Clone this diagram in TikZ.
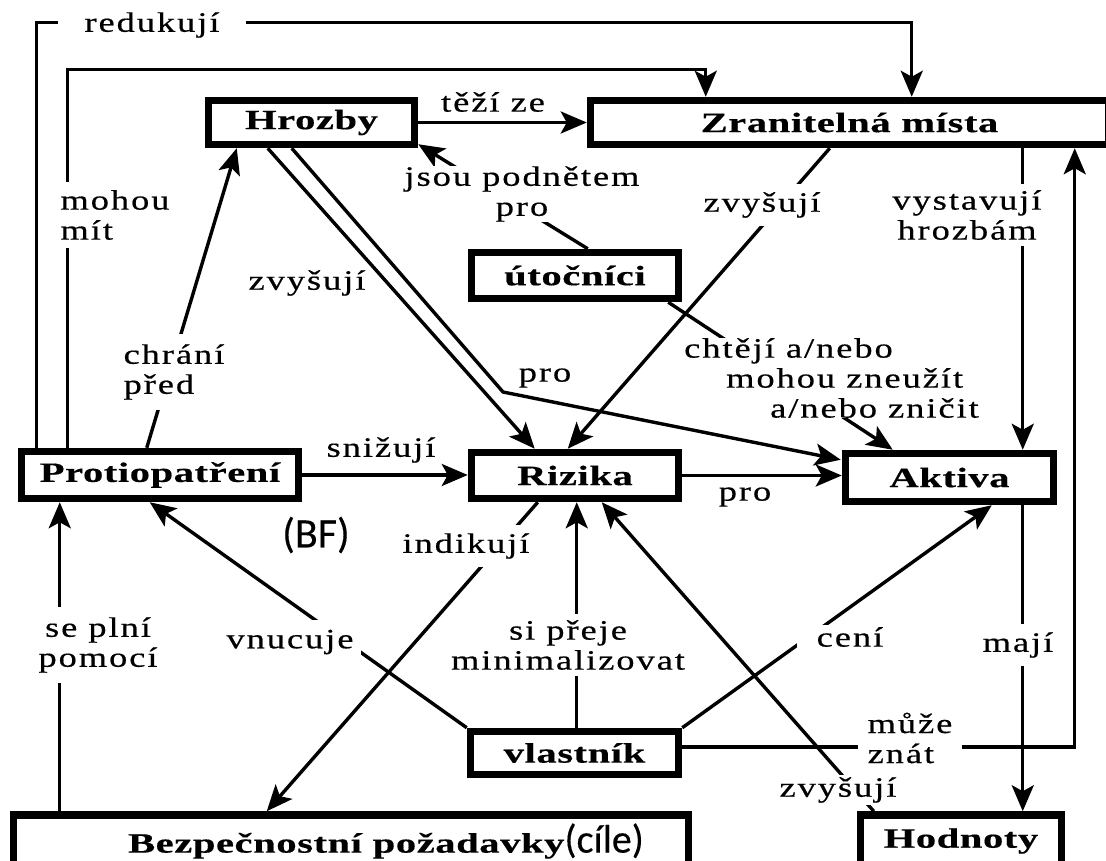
\documentclass[tikz,border=0pt]{standalone}
\usepackage{fontspec}
\setmainfont{Liberation Serif}
\newfontfamily\lblfont{Liberation Serif}[FakeStretch=1.3,LetterSpace=7,FakeBold=0.5]
\newfontfamily\boxfont{Liberation Serif}[FakeStretch=1.45,LetterSpace=2,FakeBold=0.4]
\newfontfamily\calfont{Carlito}[FakeBold=0.3]
\usetikzlibrary{arrows.meta,calc}

\begin{document}
\begin{tikzpicture}[x=1pt,y=-1pt,
  box/.style={draw=black,line width=7.5pt,fill=white,inner sep=0pt,
    font={\boxfont\bfseries\fontsize{28}{30}\selectfont}},
  conn/.style={line width=3.4pt,-{Stealth[length=26pt,width=22pt,inset=6pt]}},
  lbl/.style={font={\lblfont\fontsize{28}{30}\selectfont},align=center,inner sep=2pt},
  gap/.style={lbl,fill=white}]

\fill[white] (0,0) rectangle (1106,861);
\useasboundingbox (0,0) rectangle (1106,861);

% concept boxes
\node[box,minimum width=206pt,minimum height=44pt] (hro) at (311.5,122.5) {Hrozby};
\node[box,minimum width=518pt,minimum height=44pt] (zra) at (849.5,122.5) {Zranitelná místa};
\node[box,minimum width=207pt,minimum height=46pt] (uto) at (575,275.5) {útočníci};
\node[box,minimum width=277pt,minimum height=47pt] (pro) at (160,475) {Protiopatření};
\node[box,minimum width=207pt,minimum height=46pt] (riz) at (575,475.5) {Rizika};
\node[box,minimum width=208pt,minimum height=48pt] (akt) at (949.5,477.5) {Aktiva};
\node[box,minimum width=208pt,minimum height=43pt] (vla) at (574.5,753) {vlastník};
\node[box,minimum width=675pt,minimum height=52pt] (bez) at (351,841)
  {\hspace*{70pt}Bezpečnostní požadavky{\calfont\mdseries\fontsize{40}{40}\selectfont(cíle)}};
\node[box,minimum width=201pt,minimum height=52pt] (hod) at (961,841) {Hodnoty};

\coordinate (bend) at (503,392);

% relations
\draw[conn] ($(pro.north west)+(19,0)$) -- ++(0,-425) -| ($(zra.north west)+(325,0)$);
\draw[conn] ($(pro.north west)+(50,0)$) -- ++(0,-378) -| ($(zra.north west)+(119,0)$);
\draw[conn] (hro.east) -- (zra.west);
\draw[conn] ($(uto.north west)+(120,0)$) -- ($(hro.south east)+(0,-4)$);
\draw[conn] ($(zra.south west)+(243,0)$) -- ($(riz.north west)+(100,0)$);
\draw[conn] ($(hro.south west)+(63,0)$) -- ($(riz.north west)+(67,0)$);
\draw[conn] ($(hro.south west)+(87,0)$) -- (bend) -- ($(akt.north west)+(-1,10)$);
\draw[conn] ($(uto.south east)+(-14,0)$) -- ($(akt.north west)+(51,0)$);
\draw[conn] ($(zra.south west)+(436,0)$) -- ($(akt.north west)+(181,0)$);
\draw[conn] ($(vla.east)+(0,-6)$) -| ($(zra.south west)+(488,0)$);
\draw[conn] ($(akt.south west)+(181,0)$) -- ($(hod.north west)+(166,0)$);
\draw[conn] ($(pro.north west)+(129,0)$) -- ($(hro.south west)+(32,0)$);
\draw[conn] (pro.east) -- (pro.east -| riz.west);
\draw[conn] (riz.east) -- (riz.east -| akt.west);
\draw[conn] ($(riz.south west)+(70,0)$) -- ($(bez.north west)+(257,0)$);
\draw[conn] ($(vla.north west)+(110,0)$) -- ($(riz.south west)+(109,0)$);
\draw[conn] (vla.north west) -- ($(pro.south west)+(132,0)$);
\draw[conn] (vla.north east) -- ($(akt.south west)+(150,0)$);
\draw[conn] ($(hod.north west)+(17,0)$) -- ($(riz.south west)+(134,0)$);
\draw[conn] ($(bez.north west)+(50,0)$) -- ($(pro.south west)+(42,0)$);

% relation labels
\node[gap,inner xsep=26pt] (lred) at (152,25) {redukují};
\node[gap,align=left,inner sep=3pt,inner ysep=8pt] (lmoh) at (115,215) {mohou\\mít};
\node[lbl] (ltez) at (493,102) {těží ze};
\node[gap,inner sep=0pt] (ljso) at (522,194) {jsou podnětem\\pro};
\node[lbl] (lzv1) at (307,283) {zvyšují};
\node[gap,inner ysep=8pt] (lzv2) at (762,205) {zvyšují};
\node[gap,inner ysep=6pt] (lvys) at (967,215) {vystavují\\hrozbám};
\node[lbl] (lpro1) at (545,378) {pro};
\node[gap,align=left,anchor=west,inner sep=0pt] (lcht) at (684,378)
  {chtějí a/nebo\\\hspace*{42pt}mohou zneužít\\\hspace*{86pt}a/nebo zničit};
\node[gap,align=left,inner ysep=10pt] (lchr) at (174,372) {chrání\\před};
\node[lbl] (lsni) at (381,450) {snižují};
\node[font={\calfont\fontsize{42}{42}\selectfont}] (lbf) at (316,535) {(BF)};
\node[lbl] (lpro2) at (745,497) {pro};
\node[gap,inner ysep=8pt] (lind) at (466,546) {indikují};
\node[gap,inner ysep=10pt] (lsep) at (98,645) {se plní\\pomocí};
\node[gap,inner xsep=8pt,inner ysep=10pt] (lvnu) at (290,642) {vnucuje};
\node[gap,inner xsep=1pt,inner ysep=6pt] (lsip) at (568,645) {si přeje\\minimalizovat};
\node[gap,inner xsep=20pt] (lcen) at (850,637) {cení};
\node[gap,inner ysep=8pt] (lmaj) at (1018,645) {mají};
\node[gap,align=left,inner xsep=10pt] (lmuz) at (910,738) {může\\znát};
\node[gap] (lzv3) at (838,790) {zvyšují};

\end{tikzpicture}
\end{document}
